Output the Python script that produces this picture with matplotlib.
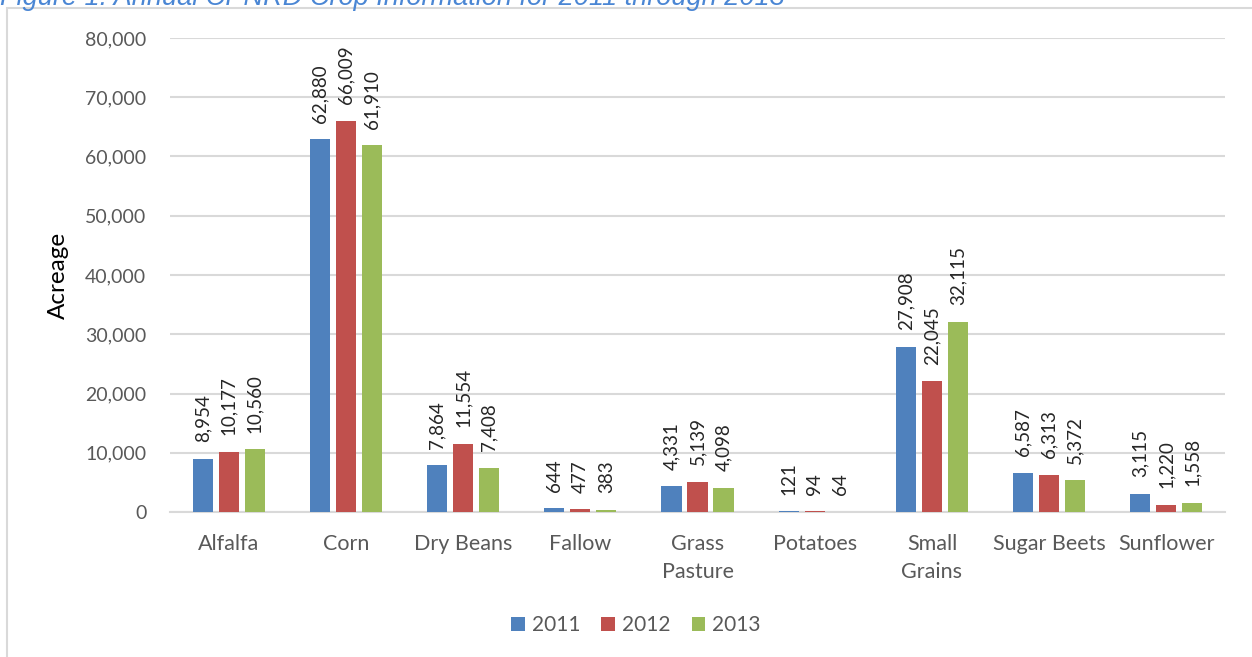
import matplotlib
matplotlib.use("Agg")
import matplotlib.pyplot as plt
from matplotlib.patches import Rectangle
import numpy as np

categories = ["Alfalfa", "Corn", "Dry Beans", "Fallow", "Grass\nPasture",
              "Potatoes", "Small\nGrains", "Sugar Beets", "Sunflower"]
years = ["2011", "2012", "2013"]
acres_2011 = [8954, 62880, 7864, 644, 4331, 121, 27908, 6587, 3115]
acres_2012 = [10177, 66009, 11554, 477, 5139, 94, 22045, 6313, 1220]
acres_2013 = [10560, 61910, 7408, 383, 4098, 64, 32115, 5372, 1558]
y_ticks = [0, 10000, 20000, 30000, 40000, 50000, 60000, 70000, 80000]

series = [acres_2011, acres_2012, acres_2013]
colors = ["#4f81bd", "#c0504d", "#9bbb59"]

W, H = 1252, 657
fig = plt.figure(figsize=(W / 100, H / 100), dpi=100)
fig.patch.set_facecolor("white")

# outer chart frame
fig.patches.append(Rectangle((7 / W, -0.1), 1.2, 1 - 8 / H + 0.1,
                             transform=fig.transFigure, fill=False,
                             edgecolor="#d9d9d9", linewidth=1.5))

# caption above the chart
fig.text(0.0, 1 - 5 / H, "Figure 1: Annual CPNRD Crop Information for 2011 through 2013",
         color="#4a86d4", fontstyle="italic", family="Liberation Sans",
         fontsize=19.5, va="baseline", ha="left")

ax = fig.add_axes([170 / W, 1 - 512 / H, (1225 - 170) / W, (512 - 38) / H])
ax.set_xlim(-0.5, len(categories) - 0.5)
ax.set_ylim(0, 80000)

x = np.arange(len(categories))
bw = 0.172
step = 0.222
font = "Lato"
for i, (vals, col, yr) in enumerate(zip(series, colors, years)):
    pos = x + (i - 1) * step
    ax.bar(pos, vals, width=bw, color=col, label=yr, zorder=3)
    for px, v in zip(pos, vals):
        ax.annotate(f"{v:,}", (px, v), xytext=(0, 12), textcoords="offset points",
                    rotation=90, ha="center", va="bottom", fontsize=13.5,
                    family=font, color="#262626", zorder=4)

ax.set_yticks(y_ticks)
ax.set_yticklabels([f"{t:,}" for t in y_ticks])
ax.set_xticks(x)
ax.set_xticklabels(categories)
ax.tick_params(axis="both", length=0, labelcolor="#595959")
ax.tick_params(axis="y", pad=17, labelsize=14)
ax.tick_params(axis="x", pad=16, labelsize=15.5)
for lab in ax.get_xticklabels() + ax.get_yticklabels():
    lab.set_family(font)
for lab in ax.get_xticklabels():
    lab.set_linespacing(1.5)

ax.grid(axis="y", color="#d9d9d9", linewidth=1.5, zorder=0)
for s in ["top", "right", "left"]:
    ax.spines[s].set_visible(False)
ax.spines["bottom"].set_color("#d9d9d9")
ax.spines["bottom"].set_linewidth(1.5)

ax.set_ylabel("Acreage", family=font, fontsize=17.5, color="black", labelpad=12)

leg = fig.legend(loc="center", bbox_to_anchor=(636 / W, 1 - 625 / H), ncol=3,
                 frameon=False, handlelength=0.65, handleheight=0.65,
                 handletextpad=0.35, columnspacing=1.0,
                 prop={"family": font, "size": 15})
for t in leg.get_texts():
    t.set_color("#595959")

fig.savefig("out.png", dpi=100)
